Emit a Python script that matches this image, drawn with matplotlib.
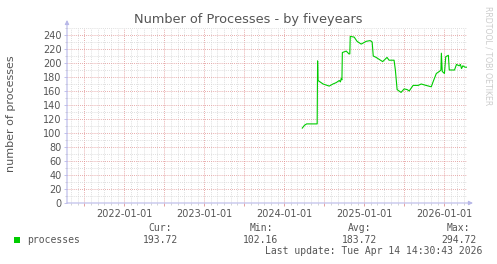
import matplotlib

matplotlib.use("Agg")
import matplotlib.pyplot as plt
import matplotlib.dates as mdates
from matplotlib.ticker import MultipleLocator, FuncFormatter
import pandas as pd

# processes over five years
dates = [
    "2024-03-23", "2024-04-02", "2024-04-12", "2024-05-30", "2024-06-01", "2024-06-03",
    "2024-06-26", "2024-07-24", "2024-08-10", "2024-08-25", "2024-09-08", "2024-09-13",
    "2024-09-17", "2024-09-20", "2024-09-22", "2024-10-10", "2024-10-22", "2024-10-26",
    "2024-10-28", "2024-11-15", "2024-11-28", "2024-12-17", "2025-01-09", "2025-01-27",
    "2025-02-05", "2025-02-10", "2025-02-23", "2025-03-25", "2025-04-14", "2025-04-23",
    "2025-05-16", "2025-05-22", "2025-05-30", "2025-06-17", "2025-07-01", "2025-07-15",
    "2025-07-24", "2025-08-11", "2025-09-03", "2025-09-17", "2025-10-09", "2025-11-02",
    "2025-11-10", "2025-11-25", "2025-12-09", "2025-12-16", "2025-12-18", "2025-12-22",
    "2026-01-01", "2026-01-07", "2026-01-19", "2026-01-23", "2026-02-16", "2026-02-25",
    "2026-03-09", "2026-03-15", "2026-03-20", "2026-03-26", "2026-04-05", "2026-04-13",
]
processes = [
    107, 111, 113, 113, 203, 175,
    170, 167, 170, 172, 175, 173,
    178, 176, 215, 217, 213, 213,
    238, 237, 231, 227, 231, 232,
    230, 210, 208, 202, 208, 204,
    204, 190, 162, 158, 163, 162,
    160, 168, 168, 170, 168, 166,
    173, 185, 188, 190, 214, 188,
    185, 209, 211, 190, 190, 198,
    196, 198, 192, 196, 194, 194,
]

legend_heads = ["Cur:", "Min:", "Avg:", "Max:"]
legend_values = ["193.72", "102.16", "183.72", "294.72"]
last_update = "Last update: Tue Apr 14 14:30:43 2026"

W, H = 497, 264
TXT = "#555555"
AXC = "#b8b8e8"

fig = plt.figure(figsize=(W / 100, H / 100), dpi=100)
ax = fig.add_axes([67 / W, 1 - 203 / H, 400 / W, 175 / H])

x = pd.to_datetime(dates)
ax.plot(x, processes, color="#00cc00", lw=0.8)

ax.set_xlim(pd.Timestamp("2021-04-14"), pd.Timestamp("2026-04-14"))
ax.set_ylim(0, 250)

ax.xaxis.set_major_locator(mdates.MonthLocator(bymonth=[1, 7]))
ax.xaxis.set_minor_locator(mdates.MonthLocator())
ax.xaxis.set_major_formatter(
    FuncFormatter(lambda v, p: mdates.num2date(v).strftime("%Y-%m-%d") if mdates.num2date(v).month == 1 else "")
)
ax.yaxis.set_major_locator(MultipleLocator(20))
ax.yaxis.set_minor_locator(MultipleLocator(10))

ax.grid(which="minor", color="#d4d4d4", ls=(0, (1, 1.5)), lw=0.6)
ax.grid(which="major", color="#e09090", ls=(0, (1, 1.5)), lw=0.6)
ax.set_axisbelow(True)

ax.tick_params(which="major", length=2, width=0.6, color="#e09090", labelsize=7, labelcolor=TXT, pad=2)
ax.tick_params(which="minor", length=1.5, width=0.6, color="#cccccc")
ax.tick_params(axis="y", which="major", color=AXC)

for s in ax.spines.values():
    s.set_visible(False)

# rrd style axis arrows
arrow = dict(arrowstyle="-|>", color=AXC, lw=0.8, mutation_scale=6, shrinkA=0, shrinkB=0)
ax.annotate("", xy=(0, 1.046), xytext=(0, 0), xycoords="axes fraction", arrowprops=arrow, annotation_clip=False)
ax.annotate("", xy=(1.015, 0), xytext=(0, 0), xycoords="axes fraction", arrowprops=arrow, annotation_clip=False)

fig.text(248 / W, 1 - 20 / H, "Number of Processes - by fiveyears", ha="center", va="center",
         fontsize=9.3, color=TXT)
fig.text(11 / W, 1 - 114 / H, "number of processes", rotation=90, ha="center", va="center",
         fontsize=8, color=TXT)
fig.text(488 / W, 1 - 6 / H, "RRDTOOL / TOBI OETIKER", rotation=270, ha="center", va="top",
         fontsize=5.6, color="#cccccc")

# legend
mono = dict(family="DejaVu Sans Mono", fontsize=7, color=TXT, va="center")
fig.patches.append(plt.Rectangle((14 / W, 1 - 243 / H), 6 / W, 6 / H, transform=fig.transFigure,
                                 facecolor="#00cc00", edgecolor="none"))
fig.text(27 / W, 1 - 240 / H, "processes", ha="left", **mono)
head_x = [172, 273, 371, 470]
val_x = [178, 278, 377, 477]
for hx, vx, hd, vl in zip(head_x, val_x, legend_heads, legend_values):
    fig.text(hx / W, 1 - 228 / H, hd, ha="right", **mono)
    fig.text(vx / W, 1 - 240 / H, vl, ha="right", **mono)
fig.text(482 / W, 1 - 251 / H, last_update, ha="right", **mono)

fig.savefig("out.png", dpi=100)
